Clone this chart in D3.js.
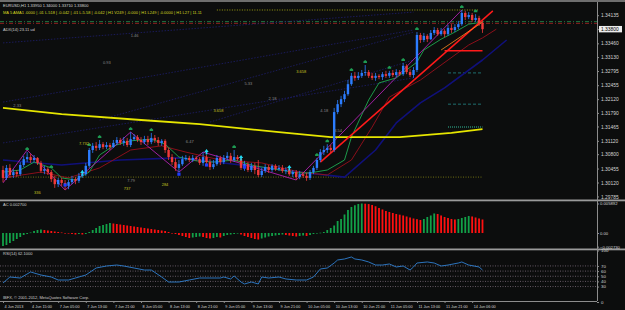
<!DOCTYPE html>
<html lang="en">
<head>
<meta charset="UTF-8">
<script src="https://d3js.org/d3.v7.min.js"></script>
<title>EURUSD,H1</title>
<style>
  body { margin: 0; background: #0c0d0d; }
  svg { display: block; }
  text { font-family: "Liberation Sans", Arial, sans-serif; }
  .axis .domain, .axis line { stroke: #8c8c8c; }
  .axis text { fill: #d4d4d4; }
</style>
</head>
<body>
<svg id="chart" width="625" height="310"></svg>
<script>
// H1 candles, [open, high, low, close]
const candles = [
  [1.3042,1.3052,1.3013,1.3023],[1.3023,1.3054,1.3018,1.3047],[1.3047,1.3056,1.3023,1.3030],[1.3030,1.3044,1.3023,1.3037],
  [1.3037,1.3042,1.3025,1.3032],[1.3032,1.3061,1.3028,1.3054],[1.3054,1.3076,1.3049,1.3068],[1.3068,1.3085,1.3061,1.3073],
  [1.3073,1.3080,1.3059,1.3066],[1.3066,1.3078,1.3061,1.3071],[1.3071,1.3073,1.3054,1.3059],[1.3059,1.3064,1.3035,1.3040],
  [1.3040,1.3052,1.3032,1.3044],[1.3044,1.3049,1.3030,1.3037],[1.3037,1.3042,1.3013,1.3020],[1.3020,1.3028,1.2999,1.3008],
  [1.3008,1.3023,1.3001,1.3018],[1.3018,1.3023,1.3004,1.3011],[1.3011,1.3018,1.2994,1.3004],[1.3004,1.3018,1.2996,1.3013],
  [1.3013,1.3028,1.3008,1.3020],[1.3020,1.3025,1.3008,1.3016],[1.3016,1.3035,1.3011,1.3028],[1.3028,1.3042,1.3023,1.3032],
  [1.3032,1.3059,1.3028,1.3052],[1.3052,1.3095,1.3047,1.3090],[1.3090,1.3107,1.3083,1.3100],[1.3100,1.3109,1.3088,1.3095],
  [1.3095,1.3114,1.3090,1.3104],[1.3104,1.3109,1.3092,1.3097],[1.3097,1.3109,1.3092,1.3102],[1.3102,1.3107,1.3090,1.3097],
  [1.3097,1.3114,1.3095,1.3107],[1.3107,1.3121,1.3102,1.3114],[1.3114,1.3119,1.3102,1.3107],[1.3107,1.3121,1.3100,1.3112],
  [1.3112,1.3119,1.3097,1.3102],[1.3102,1.3133,1.3097,1.3116],[1.3116,1.3128,1.3112,1.3121],[1.3121,1.3126,1.3109,1.3114],
  [1.3114,1.3121,1.3102,1.3109],[1.3109,1.3124,1.3104,1.3116],[1.3116,1.3124,1.3102,1.3109],[1.3109,1.3131,1.3104,1.3119],
  [1.3119,1.3126,1.3107,1.3114],[1.3114,1.3121,1.3100,1.3107],[1.3107,1.3116,1.3100,1.3112],[1.3112,1.3116,1.3083,1.3090],
  [1.3090,1.3095,1.3066,1.3073],[1.3073,1.3080,1.3054,1.3061],[1.3061,1.3071,1.3040,1.3047],[1.3047,1.3066,1.3037,1.3056],
  [1.3056,1.3076,1.3052,1.3068],[1.3068,1.3078,1.3064,1.3071],[1.3071,1.3076,1.3061,1.3066],[1.3066,1.3078,1.3061,1.3071],
  [1.3071,1.3076,1.3064,1.3068],[1.3068,1.3073,1.3054,1.3059],[1.3059,1.3085,1.3052,1.3073],[1.3073,1.3078,1.3054,1.3061],
  [1.3061,1.3068,1.3042,1.3049],[1.3049,1.3066,1.3044,1.3056],[1.3056,1.3078,1.3052,1.3071],[1.3071,1.3076,1.3054,1.3061],
  [1.3061,1.3078,1.3056,1.3071],[1.3071,1.3085,1.3066,1.3076],[1.3076,1.3083,1.3059,1.3066],[1.3066,1.3090,1.3061,1.3073],
  [1.3073,1.3078,1.3064,1.3068],[1.3068,1.3073,1.3042,1.3047],[1.3047,1.3064,1.3040,1.3056],[1.3056,1.3061,1.3037,1.3042],
  [1.3042,1.3059,1.3037,1.3052],[1.3052,1.3059,1.3032,1.3042],[1.3042,1.3066,1.3025,1.3030],[1.3030,1.3047,1.3025,1.3040],
  [1.3040,1.3056,1.3035,1.3049],[1.3049,1.3054,1.3035,1.3042],[1.3042,1.3056,1.3037,1.3052],[1.3052,1.3056,1.3040,1.3044],
  [1.3044,1.3054,1.3040,1.3047],[1.3047,1.3054,1.3035,1.3040],[1.3040,1.3049,1.3032,1.3042],[1.3042,1.3047,1.3028,1.3032],
  [1.3032,1.3042,1.3025,1.3037],[1.3037,1.3042,1.3018,1.3025],[1.3025,1.3040,1.3020,1.3032],[1.3032,1.3037,1.3023,1.3028],
  [1.3028,1.3035,1.3016,1.3023],[1.3023,1.3042,1.3018,1.3037],[1.3037,1.3052,1.3032,1.3047],[1.3047,1.3071,1.3042,1.3066],
  [1.3066,1.3092,1.3061,1.3085],[1.3085,1.3100,1.3078,1.3090],[1.3090,1.3104,1.3083,1.3095],[1.3095,1.3102,1.3083,1.3090],
  [1.3090,1.3191,1.3085,1.3181],[1.3181,1.3210,1.3176,1.3200],[1.3200,1.3220,1.3193,1.3212],[1.3212,1.3232,1.3205,1.3224],
  [1.3224,1.3258,1.3220,1.3248],[1.3248,1.3275,1.3244,1.3268],[1.3268,1.3277,1.3256,1.3263],[1.3263,1.3277,1.3258,1.3268],
  [1.3268,1.3282,1.3263,1.3275],[1.3275,1.3294,1.3268,1.3277],[1.3277,1.3282,1.3263,1.3268],[1.3268,1.3275,1.3258,1.3263],
  [1.3263,1.3275,1.3256,1.3268],[1.3268,1.3272,1.3260,1.3265],[1.3265,1.3277,1.3258,1.3272],[1.3272,1.3280,1.3263,1.3268],
  [1.3268,1.3280,1.3263,1.3275],[1.3275,1.3282,1.3265,1.3270],[1.3270,1.3284,1.3265,1.3277],[1.3277,1.3282,1.3268,1.3272],
  [1.3272,1.3299,1.3268,1.3292],[1.3292,1.3296,1.3272,1.3277],[1.3277,1.3284,1.3265,1.3270],[1.3270,1.3289,1.3263,1.3282],
  [1.3282,1.3373,1.3277,1.3366],[1.3366,1.3371,1.3347,1.3354],[1.3354,1.3371,1.3349,1.3364],[1.3364,1.3368,1.3349,1.3356],
  [1.3356,1.3378,1.3354,1.3371],[1.3371,1.3385,1.3366,1.3378],[1.3378,1.3383,1.3364,1.3368],[1.3368,1.3383,1.3364,1.3376],
  [1.3376,1.3380,1.3361,1.3368],[1.3368,1.3390,1.3364,1.3383],[1.3383,1.3392,1.3371,1.3378],[1.3378,1.3392,1.3373,1.3385],
  [1.3385,1.3400,1.3380,1.3392],[1.3392,1.3426,1.3388,1.3419],[1.3419,1.3424,1.3402,1.3409],[1.3409,1.3421,1.3404,1.3414],
  [1.3414,1.3419,1.3397,1.3402],[1.3402,1.3416,1.3397,1.3407],[1.3407,1.3412,1.3388,1.3395],[1.3395,1.3400,1.3371,1.3380]
];

// Accelerator oscillator, one value per bar
const acValues = [
  -0.0026,-0.0024,-0.0020,-0.0016,-0.0012,-0.0008,-0.0004,-0.0002,0.0001,0.0004,
  0.0006,0.0007,0.0006,0.0005,0.0004,0.0003,0.0002,0.0001,-0.00005,-0.0001,
  -0.0002,-0.0003,-0.0002,-0.0003,-0.0002,0.0002,0.0006,0.0010,0.0014,0.0016,
  0.0018,0.0020,0.0019,0.0018,0.0017,0.0016,0.0015,0.0014,0.0013,0.0012,
  0.0011,0.0010,0.0009,0.0008,0.0007,0.0006,0.0005,0.0004,0.0002,0.0000,
  -0.0002,-0.0004,-0.0006,-0.0008,-0.0010,-0.0009,-0.0008,-0.0007,-0.0008,-0.0010,
  -0.0011,-0.0010,-0.0008,-0.0009,-0.0006,-0.0004,-0.0003,-0.0002,-0.0001,-0.0003,
  -0.0006,-0.0008,-0.0010,-0.0012,-0.0013,-0.0011,-0.0009,-0.0007,-0.0006,-0.0005,
  -0.0004,-0.0003,-0.0004,-0.0005,-0.0006,-0.0007,-0.0006,-0.0005,-0.0006,-0.0004,
  -0.0002,-0.0001,0.00006,0.0002,0.0006,0.0010,0.0015,0.0024,0.0028,0.0037,
  0.0046,0.0052,0.00554,0.0058,0.00589,0.00585,0.00578,0.0056,0.00534,0.0050,
  0.0047,0.0044,0.0042,0.0040,0.0038,0.00366,0.0035,0.0033,0.0031,0.0029,
  0.00276,0.0026,0.0028,0.0032,0.0035,0.0039,0.0038,0.0035,0.0032,0.0030,
  0.0028,0.0027,0.0028,0.0030,0.0032,0.0034,0.0033,0.0031,0.0029,0.0027
];

// RSI(14), [bar, value]
const rsiPoints = [
  [0,36.9],[2,48.5],[5,46.6],[8,58.3],[11,52.4],[14,48.5],[16,42.7],[19,42.7],[21,46.6],[24,52.4],
  [27,66],[30,69.9],[33,71.8],[35,69.9],[38,66],[41,62.1],[43,62.1],[46,48.5],[48,38.8],[51,38.8],
  [54,42.7],[57,46.6],[60,46.6],[63,46.6],[64,48.5],[66,44.7],[67,50.5],[69,38.8],[70,35],[72,38.8],
  [74,35],[75,48.5],[77,46.6],[80,48.5],[82,44.7],[85,42.7],[88,42.7],[90,48.5],[92,64.1],[94,66],
  [96,75.7],[97,81.6],[99,83.5],[101,87.4],[102,83.5],[104,81.6],[106,77.7],[108,71.8],[110,71.8],[112,73.8],
  [114,68],[116,69.9],[118,62.1],[119,68],[120,75.7],[123,77.7],[125,75.7],[127,69.9],[129,71.8],[132,75.7],
  [133,77.7],[135,71.8],[138,68],[139,62.1]
];
const rsiLevels = [70, 60, 50, 40, 30];

// moving averages, [bar, price]
const maYellow = [[0,1.3191],[17,1.3176],[40,1.3162],[57,1.3152],[80,1.3133],[95,1.3121],[115,1.3121],[130,1.3131],[139,1.3140]];
const maGreen = [[0,1.3037],[5,1.3042],[9,1.3061],[14,1.3047],[17,1.3023],[21,1.3018],[25,1.3037],[28,1.3078],[32,1.3100],
  [37,1.3112],[43,1.3116],[47,1.3104],[51,1.3073],[56,1.3064],[61,1.3061],[67,1.3066],[73,1.3052],[79,1.3044],[85,1.3035],
  [89,1.3035],[94,1.3042],[99,1.3066],[101,1.3121],[106,1.3210],[109,1.3251],[114,1.3263],[120,1.3301],[122,1.3330],
  [127,1.3356],[131,1.3373],[135,1.3392],[139,1.3397]];
const maDarkRed = [[0,1.3023],[11,1.3037],[19,1.3023],[28,1.3047],[37,1.3090],[46,1.3100],[53,1.3085],[63,1.3066],[75,1.3059],
  [86,1.3037],[94,1.3030],[101,1.3066],[107,1.3145],[112,1.3217],[121,1.3258],[129,1.3306],[135,1.3342],[139,1.3359],[143,1.3380]];
const maNavy = [[0,1.3066],[17,1.3054],[34,1.3066],[51,1.3071],[69,1.3054],[86,1.3037],[99,1.3025],[108,1.3090],[114,1.3155],
  [121,1.3203],[128,1.3239],[139,1.3306],[146,1.3354]];

// zigzag swing points, [bar, price]
const zigzag = [[0,1.3011],[7,1.3090],[18,1.2994],[37,1.3133],[51,1.3037],[58,1.3085],[85,1.3018],[133,1.3426]];

// fan lines, [[bar, price], [bar, price]]
const fanLines = [
  [[0,1.3347],[119,1.3421]], [[0,1.3205],[119,1.3378]], [[0,1.3107],[119,1.3263]],
  [[28,1.3162],[119,1.3373]], [[60,1.3157],[119,1.3306]]
];
const trendLine = [[92,1.3061],[142,1.3424]];
const orangeLine = [[127,1.3330],[139,1.3397]];

// horizontal levels
const greenLevel = 1.3398, redLevel = 1.3394;
const highLevel = 1.3426, lowLevel = 1.3025;
const redStop = 1.3328;
const tealLevels = [1.3275, 1.3200, 1.3145];

const fractalBars = [7, 14, 25, 28, 37, 43, 67, 91, 94, 101, 105, 112, 116, 120, 133, 137];
const cyanArrows = [[23,1.3035],[59,1.3085],[69,1.3071],[83,1.3047]];
const blueMarks = [[18,1.3006],[51,1.3032],[59,1.3054],[70,1.3049]];

// small chart labels, [text, bar, price, kind]
const notes = [
  ["2.33",3,1.3193,"g"],["0.93",29,1.3296,"g"],["1.46",37,1.3361,"g"],["7.732",22,1.3102,"y"],
  ["6.47",53,1.3107,"g"],["5.33",70,1.3246,"g"],["2.18",77,1.3210,"g"],["3.658",61,1.3181,"y"],
  ["3.658",85,1.3275,"y"],["4.18",92,1.3181,"g"],["3.54",96,1.3133,"g"],["336",9,1.2984,"y"],
  ["737",35,1.2994,"y"],["7.79",36,1.3013,"g"],["284",46,1.3004,"y"]
];

const priceTicks = [1.29785,1.30120,1.30455,1.30800,1.31120,1.31465,1.31790,1.32120,1.32455,1.32795,1.33130,1.33460,1.33800,1.34135];
const timeLabels = ["4 Jun 2013","4 Jun 15:00","7 Jun 05:00","7 Jun 13:00","7 Jun 21:00","8 Jun 05:00","8 Jun 13:00",
  "8 Jun 21:00","9 Jun 05:00","9 Jun 13:00","9 Jun 21:00","10 Jun 05:00","10 Jun 13:00","10 Jun 21:00",
  "11 Jun 05:00","11 Jun 13:00","11 Jun 21:00","14 Jun 06:00"];
const acTicks = [0.005892, 0, -0.00273];

const svg = d3.select("#chart");
const W = 625, H = 310, axisX = 597;

svg.append("rect").attr("width", W).attr("height", H).attr("fill", "#0c0d0d");

const x = d3.scaleLinear().domain([0, 139]).range([3, 482.5]);
const y = d3.scaleLinear().domain([1.3450, 1.2970]).range([0, 200]);
const yAC = d3.scaleLinear().domain([0, 0.005892]).range([233, 203.5]);
const yRSI = d3.scaleLinear().domain([0, 100]).range([302, 250.5]);

const defs = svg.append("defs");
defs.append("clipPath").attr("id", "mainClip").append("rect").attr("x", 0).attr("y", 3).attr("width", axisX).attr("height", 196);

const main = svg.append("g").attr("clip-path", "url(#mainClip)");
const line = d3.line().x(d => x(d[0])).y(d => y(d[1]));

// levels behind everything
function hline(p, b0, b1, color, dash, w) {
  main.append("line").attr("x1", b0 == null ? 0 : x(b0)).attr("x2", b1 == null ? axisX : x(b1))
    .attr("y1", y(p)).attr("y2", y(p)).attr("stroke", color).attr("stroke-width", w || 1)
    .attr("stroke-dasharray", dash);
}
hline(greenLevel, null, null, "#1f7a44", "4,2,1,2");
hline(redLevel, null, null, "#8e2020", "4,2,1,2");
hline(highLevel, 62, 138, "#9c9c10", "1,1.5");
hline(lowLevel, 0, 139, "#6e6e12", "1,1.5");
hline(tealLevels[0], 129, 139, "#1f6f6f", "3,2");
hline(tealLevels[1], 129, 139, "#1f6f6f", "3,2");
hline(tealLevels[2], 129, 139, "#24806a", "1,1", 1.5);

fanLines.forEach(f => {
  main.append("path").attr("d", line(f)).attr("fill", "none")
    .attr("stroke", "#202078").attr("stroke-width", 0.7).attr("stroke-dasharray", "1.5,1.5");
});

function curve(data, color, w, dash) {
  main.append("path").attr("d", line(data)).attr("fill", "none").attr("stroke", color)
    .attr("stroke-width", w).attr("stroke-dasharray", dash || null).attr("stroke-linejoin", "round");
}
curve(maNavy, "#10107a", 1.6);
curve(maDarkRed, "#8a0f1a", 1);
curve(maGreen, "#1c9a4a", 1);
curve(zigzag, "#b020b0", 0.9);
curve(maYellow, "#e6e600", 1.8);
curve(trendLine, "#ff1a1a", 1.5);
curve(orangeLine, "#ff8a20", 0.8);
hline(redStop, 128, 139, "#ff1a1a", null, 1.5);

// candles
const cg = main.append("g");
candles.forEach((c, i) => {
  const up = c[3] >= c[0];
  const col = up ? "#2c7dff" : "#f23a3a";
  const cx = x(i);
  cg.append("line").attr("x1", cx).attr("x2", cx).attr("y1", y(c[1])).attr("y2", y(c[2]))
    .attr("stroke", col).attr("stroke-width", 0.8);
  const top = Math.min(y(c[0]), y(c[3]));
  cg.append("rect").attr("x", cx - 1.2).attr("width", 2.4).attr("y", top)
    .attr("height", Math.max(0.8, Math.abs(y(c[0]) - y(c[3])))).attr("fill", col);
});

// fractal marks above highs
fractalBars.forEach(i => {
  const px = x(i), py = y(candles[i][1]) - 2;
  main.append("path").attr("d", `M${px},${py - 3}L${px + 1.8},${py - 1.5}L${px + 1.8},${py}L${px - 1.8},${py}L${px - 1.8},${py - 1.5}Z`)
    .attr("fill", "#1e9a52");
});
cyanArrows.forEach(a => {
  const px = x(a[0]), py = y(a[1]);
  main.append("path").attr("d", `M${px},${py - 3}L${px + 2.2},${py}L${px + 0.8},${py}L${px + 0.8},${py + 2.5}L${px - 0.8},${py + 2.5}L${px - 0.8},${py}L${px - 2.2},${py}Z`)
    .attr("fill", "#22d8f0");
});
blueMarks.forEach(a => {
  main.append("rect").attr("x", x(a[0]) - 1.6).attr("y", y(a[1]) - 1.6).attr("width", 3.2).attr("height", 3.2).attr("fill", "#1d3dff");
});

notes.forEach(n => {
  main.append("text").attr("x", x(n[1])).attr("y", y(n[2])).attr("font-size", 4)
    .attr("fill", n[3] === "y" ? "#c8c020" : "#8a8a8a").text(n[0]);
});

// header texts
const head = svg.append("g").attr("font-size", 4);
const last = candles[candles.length - 1];
head.append("text").attr("x", 3).attr("y", 7).attr("fill", "#d8d8d8")
  .text("EURUSD,H1  " + last.map(v => v.toFixed(5)).join(" "));
head.append("text").attr("x", 3).attr("y", 14).attr("fill", "#d8d820")
  .text("MA 5 AMA1 .0000 | .01 L.518 | .0.042 | .01 L.5.58 | .0.042 | H1 V249 | .0.000 | H1 L249 | .0.0000 | H1 L27 | 11.11");
head.append("text").attr("x", 3).attr("y", 31).attr("fill", "#d0d0d0").text("ADX(14) 23.11 ud");

// AC window
const ac = svg.append("g");
acValues.forEach((v, i) => {
  const upc = i === 0 || v > acValues[i - 1];
  ac.append("rect").attr("x", x(i) - 0.9).attr("width", 1.8)
    .attr("y", Math.min(yAC(v), yAC(0))).attr("height", Math.max(0.6, Math.abs(yAC(v) - yAC(0))))
    .attr("fill", upc ? "#12a048" : "#ff1010");
});
svg.append("text").attr("x", 3).attr("y", 206).attr("font-size", 4).attr("fill", "#d0d0d0")
  .text("AC " + acValues[acValues.length - 1].toFixed(6));

// RSI window
rsiLevels.forEach(l => {
  svg.append("line").attr("x1", 0).attr("x2", axisX).attr("y1", yRSI(l)).attr("y2", yRSI(l))
    .attr("stroke", "#8a7a8a").attr("stroke-width", 0.7).attr("stroke-dasharray", "1,1.5");
});
svg.append("path").attr("d", d3.line().x(d => x(d[0])).y(d => yRSI(d[1]))(rsiPoints))
  .attr("fill", "none").attr("stroke", "#2f7fd0").attr("stroke-width", 0.9);
svg.append("text").attr("x", 3).attr("y", 255).attr("font-size", 4).attr("fill", "#d0d0d0")
  .text("RSI(14) " + rsiPoints[rsiPoints.length - 1][1].toFixed(4));
svg.append("text").attr("x", 3).attr("y", 299).attr("font-size", 4).attr("fill", "#d0d0d0")
  .text("IBFX, \u00a9 2001-2012, MetaQuotes Software Corp.");

// frame and separators
svg.append("rect").attr("x", 0).attr("y", 0).attr("width", W).attr("height", 2).attr("fill", "#6e6e6e");
svg.append("rect").attr("x", 0).attr("y", 199.5).attr("width", W).attr("height", 1.8).attr("fill", "#9a9a9a");
svg.append("rect").attr("x", 0).attr("y", 248.5).attr("width", W).attr("height", 1.8).attr("fill", "#9a9a9a");

// price axis
const pa = svg.append("g").attr("class", "axis").attr("transform", `translate(${axisX},0)`)
  .call(d3.axisRight(y).tickValues(priceTicks).tickSize(2).tickFormat(d3.format(".5f")));
pa.select(".domain").attr("d", "M0.5,2V301");
pa.selectAll("text").attr("font-size", 4.9).attr("x", 4);
// current price box
svg.append("rect").attr("x", axisX + 2).attr("y", y(last[3]) - 3.2).attr("width", 23).attr("height", 6.4).attr("fill", "#ececec");
svg.append("text").attr("x", axisX + 4).attr("y", y(last[3]) + 1.8).attr("font-size", 4.9).attr("fill", "#000")
  .text(last[3].toFixed(5));

const aa = svg.append("g").attr("class", "axis").attr("transform", `translate(${axisX},0)`)
  .call(d3.axisRight(yAC).tickValues(acTicks).tickSize(2).tickFormat(d => d === 0 ? "0.00" : d3.format(".6f")(d)));
aa.select(".domain").remove();
aa.selectAll("text").attr("font-size", 4.2).attr("x", 3);
const ra = svg.append("g").attr("class", "axis").attr("transform", `translate(${axisX},0)`)
  .call(d3.axisRight(yRSI).tickValues([100].concat(rsiLevels, [0])).tickSize(2));
ra.select(".domain").remove();
ra.selectAll("text").attr("font-size", 4.4).attr("x", 4);

// time axis
const ta = svg.append("g").attr("class", "axis").attr("transform", "translate(0,301)")
  .call(d3.axisBottom(x).tickValues(timeLabels.map((t, i) => i * 8)).tickSize(2).tickFormat((d, i) => timeLabels[i]));
ta.select(".domain").attr("d", `M0,0.5H${axisX}`);
ta.selectAll("text").attr("font-size", 3.8).attr("text-anchor", "start").attr("x", 1).attr("dy", "0.45em");
</script>
</body>
</html>
